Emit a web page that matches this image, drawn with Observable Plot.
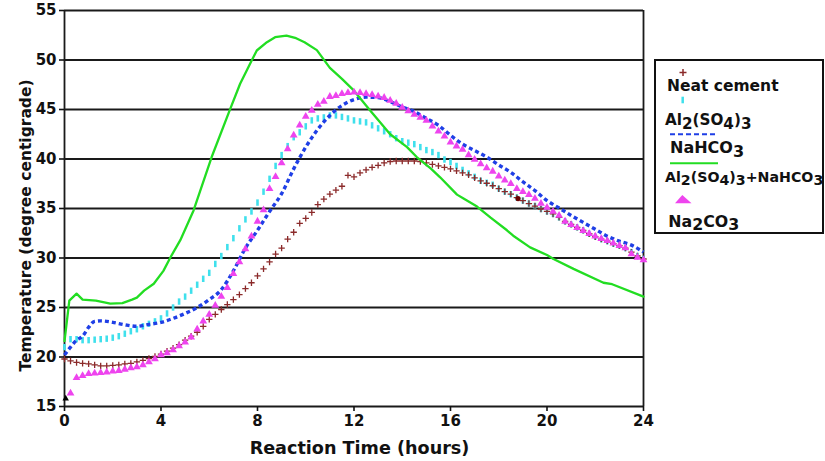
<!DOCTYPE html>
<html>
<head>
<meta charset="utf-8">
<script src="https://cdn.jsdelivr.net/npm/d3@7"></script>
<script src="https://cdn.jsdelivr.net/npm/@observablehq/plot@0.6"></script>
<style>
  body { margin: 0; background: #fff; }
  #wrap { position: relative; width: 825px; height: 461px; overflow: hidden; background: #fff; }
</style>
</head>
<body>
<div id="wrap"></div>
<script>
// ---------- data ----------
const xTicks = [0, 4, 8, 12, 16, 20, 24];
const yTicks = [15, 20, 25, 30, 35, 40, 45, 50, 55];
const xTitle = "Reaction Time (hours)";
const yTitle = "Temperature (degree centigrade)";
const seriesLabels = ["Neat cement", "Al_2(SO_4)_3", "NaHCO_3", "Al_2(SO_4)_3+NaHCO_3", "Na_2CO_3"];

// quarter-hour sampling times for the marker series
const hours = [0,0.25,0.5,0.75,1,1.25,1.5,1.75,2,2.25,2.5,2.75,3,3.25,3.5,3.75,4,
  4.25,4.5,4.75,5,5.25,5.5,5.75,6,6.25,6.5,6.75,7,7.25,7.5,7.75,8,
  8.25,8.5,8.75,9,9.25,9.5,9.75,10,10.25,10.5,10.75,11,11.25,11.5,11.75,12,
  12.25,12.5,12.75,13,13.25,13.5,13.75,14,14.25,14.5,14.75,15,15.25,15.5,15.75,16,
  16.25,16.5,16.75,17,17.25,17.5,17.75,18,18.25,18.5,18.75,19,19.25,19.5,19.75,20,
  20.25,20.5,20.75,21,21.25,21.5,21.75,22,22.25,22.5,22.75,23,23.25,23.5,23.75,24];

const neatCement = [19.8,19.6,19.45,19.35,19.3,19.2,19.1,19.1,19.15,19.2,19.3,19.35,19.5,19.65,19.85,20.05,20.3,
  20.6,20.9,21.25,21.7,22.1,22.5,23.1,23.8,24.3,24.8,25.3,25.8,26.3,26.9,27.5,28.2,
  28.9,29.6,30.4,31.0,31.9,32.6,33.5,34.0,34.6,35.4,35.95,36.45,36.85,37.25,38.35,38.2,
  38.6,38.9,39.15,39.35,39.6,39.75,39.8,39.8,39.8,39.8,39.75,39.6,39.45,39.3,39.15,39.0,
  38.8,38.6,38.4,38.1,37.8,37.55,37.3,37.0,36.7,36.45,36.1,35.8,35.5,35.25,34.95,34.7,
  34.45,34.1,33.7,33.4,33.1,32.8,32.45,32.15,31.9,31.7,31.45,31.25,31.0,30.6,30.2,29.9];

const alSulfate = [21.0,21.8,21.8,21.7,21.7,21.75,21.8,21.85,21.95,22.1,22.35,22.6,22.8,23.1,23.35,23.6,23.9,
  24.4,25.0,25.6,26.1,26.7,27.3,27.9,28.5,29.4,30.2,31.1,32.0,33.0,33.9,34.7,35.6,
  36.7,38.0,39.3,40.4,41.3,42.2,42.7,43.3,43.9,44.1,44.2,44.4,44.4,44.25,44.1,43.9,
  43.8,43.7,43.4,43.1,42.8,42.5,42.1,41.8,41.65,41.5,41.2,40.9,40.7,40.4,39.95,39.7,
  39.3,38.9,38.55,38.2,37.8,37.6,37.4,37.0,36.7,36.45,36.1,35.8,35.5,35.25,34.95,34.7,
  34.45,34.1,33.7,33.4,33.1,32.8,32.45,32.15,31.9,31.7,31.45,31.25,31.0,30.6,30.2,29.9];

const sodiumCarbonate = [null,16.35,17.9,18.1,18.3,18.35,18.4,18.45,18.55,18.6,18.75,18.9,19.0,19.2,19.5,19.8,20.2,
  20.4,20.7,21.1,21.5,22.0,22.8,23.6,24.3,25.2,26.1,27.0,28.4,29.6,30.9,32.2,33.7,
  34.85,37.0,38.2,39.6,41.0,42.4,43.4,44.3,44.9,45.5,45.8,46.3,46.4,46.6,46.7,46.75,
  46.7,46.6,46.5,46.35,46.2,45.9,45.6,45.2,44.85,44.5,44.2,43.9,43.3,42.8,42.3,41.7,
  41.3,40.95,40.4,39.95,39.5,39.1,38.75,38.25,37.85,37.5,37.0,36.7,36.4,36.0,35.5,35.1,
  34.7,34.3,33.7,33.35,33.05,32.75,32.45,32.2,31.95,31.75,31.5,31.25,31.0,30.4,30.05,29.8];

const bicarbHours = [0,0.25,0.5,0.75,1,1.25,1.5,2,2.5,3,3.5,4,4.5,5,5.5,6,6.5,7,7.5,8,8.5,9,9.5,10,10.5,11,11.5,
  12,12.5,13,13.5,14,14.5,15,15.5,16,16.5,17,17.5,18,18.5,19,19.5,20,20.5,21,21.5,22,22.5,23,23.5,24];
const bicarb = [20.2,21.0,21.7,22.1,23.0,23.6,23.65,23.5,23.25,23.1,23.3,23.5,23.9,24.4,25.0,25.8,26.8,
  28.7,31.0,32.8,34.7,36.5,39.0,41.2,43.0,44.4,45.4,
  46.0,46.25,46.2,45.8,45.25,44.8,44.1,43.4,42.4,41.5,40.85,40.2,39.4,38.65,37.7,36.8,35.8,35.05,34.3,33.6,
  32.9,32.2,31.7,31.3,30.6];

const comboHours = [0,0.2,0.5,0.75,1.3,1.9,2.4,2.8,3.0,3.3,3.7,4.1,4.4,4.8,5.35,6.1,6.87,7.28,7.77,7.97,
  8.39,8.73,9.2,9.6,9.95,10.46,11.0,11.5,12.0,12.67,13.5,14.2,14.6,15.2,15.57,16.27,16.54,17.1,17.65,18.34,
  18.6,19.3,20.0,20.27,21.1,22.34,22.7,24];
const combo = [21.6,25.7,26.4,25.8,25.7,25.4,25.45,25.8,26.0,26.7,27.4,28.7,30.1,31.8,34.8,40.2,45.06,47.6,50.0,50.96,
  51.8,52.3,52.47,52.2,51.8,51.0,49.2,48.1,46.9,44.9,42.5,41.2,40.2,39.0,38.15,36.4,36.0,35.2,34.1,32.8,
  32.25,31.07,30.3,29.9,28.9,27.5,27.35,26.1];

// two stray markers visible in the picture
const startMarkerHour = [0.05], startMarkerTemp = [15.8];
const pointMarkHour = [18.8], pointMarkTemp = [36.0];

// ---------- colours ----------
const colNeat = "#8b2a2a", colAl = "#3fe0ec", colBicarb = "#1f3fe6", colCombo = "#22dd22", colCarb = "#ee44ee";

// ---------- tables ----------
const neatRows = hours.map((h, i) => ({h, v: neatCement[i]}));
const alRows = hours.map((h, i) => ({h, v: alSulfate[i]}));
const carbRows = hours.map((h, i) => ({h, v: sodiumCarbonate[i]}));
const bicarbRows = bicarbHours.map((h, i) => ({h, v: bicarb[i]}));
const comboRows = comboHours.map((h, i) => ({h, v: combo[i]}));
const startRows = startMarkerHour.map((h, i) => ({h, v: startMarkerTemp[i]}));
const markRows = pointMarkHour.map((h, i) => ({h, v: pointMarkTemp[i]}));

// vertical dash symbol for the Al2(SO4)3 series
const vbar = {draw(ctx, size) { const h = Math.sqrt(size) / 2; ctx.moveTo(0, -h); ctx.lineTo(0, h); }};

const font = "'DejaVu Sans', 'Liberation Sans', Arial, sans-serif";

const chart = Plot.plot({
  width: 825,
  height: 461,
  marginLeft: 64,
  marginRight: 182,
  marginTop: 10,
  marginBottom: 55,
  style: {fontFamily: font, fontWeight: "bold", fontSize: "15px", color: "#111", background: "#fff"},
  x: {domain: [0, 24], axis: null},
  y: {domain: [15, 55], axis: null},
  marks: [
    Plot.ruleY(yTicks, {stroke: "#1a1a1a", strokeWidth: 1.8}),
    Plot.ruleX([0, 24], {stroke: "#1a1a1a", strokeWidth: 1.8}),
    Plot.axisX({ticks: xTicks, tickSize: 5, tickPadding: 4, label: null, strokeWidth: 1.6, tickFormat: d => String(d)}),
    Plot.axisY({ticks: yTicks, tickSize: 5, tickPadding: 3, label: null, strokeWidth: 1.6, tickFormat: d => String(d)}),
    Plot.dot(alRows, {x: "h", y: "v", symbol: vbar, r: 3.6, stroke: colAl, strokeWidth: 2.6, fill: "none", strokeLinecap: "butt"}),
    Plot.dot(neatRows, {x: "h", y: "v", symbol: "plus", r: 2.2, stroke: colNeat, strokeWidth: 1.3, fill: "none"}),
    Plot.line(bicarbRows, {x: "h", y: "v", stroke: colBicarb, strokeWidth: 3.4, strokeDasharray: "4,3", strokeLinecap: "butt", curve: "monotone-x"}),
    Plot.line(comboRows, {x: "h", y: "v", stroke: colCombo, strokeWidth: 2.3, curve: "linear"}),
    Plot.dot(carbRows, {x: "h", y: "v", symbol: "triangle", r: 2.9, fill: colCarb, stroke: "none"}),
    Plot.dot(startRows, {x: "h", y: "v", symbol: "triangle", r: 2.4, fill: "#000", stroke: "none"}),
    Plot.dot(markRows, {x: "h", y: "v", r: 2.6, fill: "#6b0000", stroke: "none"}),
    Plot.text([xTitle], {text: d => d, frameAnchor: "bottom", textAnchor: "middle", lineAnchor: "bottom", dx: 5.5, dy: 47, fontSize: 17.6, fontWeight: "bold", fill: "#111"}),
    Plot.text([yTitle], {text: d => d, frameAnchor: "left", textAnchor: "middle", lineAnchor: "bottom", rotate: -90, dx: -34, dy: 17, fontSize: 15.5, fontWeight: "bold", fill: "#111"})
  ]
});

const wrap = document.getElementById("wrap");
wrap.appendChild(chart);

// ---------- legend (separate overlay, real text) ----------
const legend = d3.create("svg")
  .attr("width", 825).attr("height", 461)
  .style("position", "absolute").style("left", "0px").style("top", "0px")
  .attr("font-family", font).attr("font-weight", "bold").attr("fill", "#111");

legend.append("rect").attr("x", 655).attr("y", 60).attr("width", 168).attr("height", 173)
  .attr("fill", "none").attr("stroke", "#111").attr("stroke-width", 2);

function addLabel(str, x, y, size) {
  const t = legend.append("text").attr("x", x).attr("y", y).attr("font-size", size);
  const parts = str.split(/(_\d)/).filter(s => s.length);
  let down = false;
  parts.forEach(p => {
    if (p.startsWith("_")) {
      t.append("tspan").attr("dy", down ? 0 : 3.5).text(p.slice(1));
      down = true;
    } else {
      t.append("tspan").attr("dy", down ? -3.5 : 0).text(p);
      down = false;
    }
  });
}

// markers
legend.append("path").attr("d", "M679.5,72.5H686.5M683,69V76").attr("stroke", colNeat).attr("stroke-width", 1.5);
legend.append("path").attr("d", "M682.7,96.7V103.3").attr("stroke", colAl).attr("stroke-width", 2.5);
legend.append("path").attr("d", "M670,134.3H717").attr("stroke", colBicarb).attr("stroke-width", 2).attr("stroke-dasharray", "5,3");
legend.append("path").attr("d", "M670,163.3H718").attr("stroke", colCombo).attr("stroke-width", 2);
legend.append("path").attr("d", "M682.3,195L691.5,203.3H675Z").attr("fill", colCarb);

addLabel(seriesLabels[0], 667, 90.7, 15.5);
addLabel(seriesLabels[1], 665, 125, 15.2);
addLabel(seriesLabels[2], 670, 153.3, 16);
addLabel(seriesLabels[3], 665, 181.7, 14.2);
addLabel(seriesLabels[4], 668.3, 226.7, 15.8);

wrap.appendChild(legend.node());
</script>
</body>
</html>
